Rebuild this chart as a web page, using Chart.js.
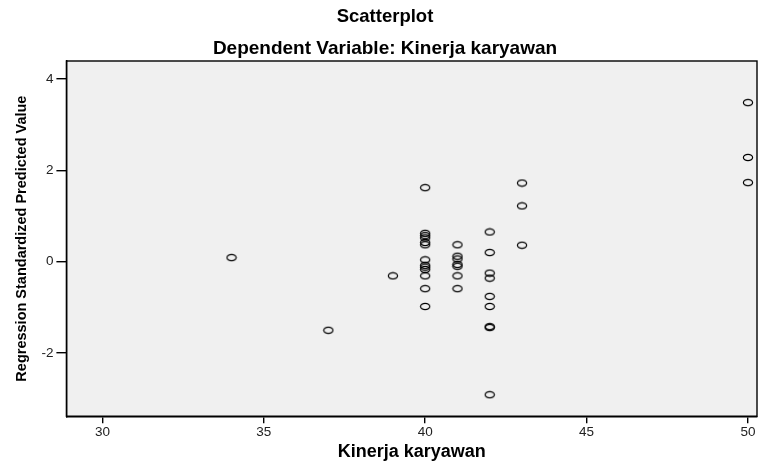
<!DOCTYPE html>
<html>
<head>
<meta charset="utf-8">
<script src="https://cdn.jsdelivr.net/npm/chart.js@4.4.1/dist/chart.umd.min.js"></script>
<style>
  html, body { margin: 0; padding: 0; background: #fff; }
  #wrap { width: 771px; height: 463px; }
</style>
</head>
<body>
<div id="wrap"><canvas id="scatterChart"></canvas></div>
<script>
const kinerja = [
  34, 37, 39,
  40, 40, 40, 40, 40, 40, 40, 40, 40, 40, 40, 40, 40,
  41, 41, 41, 41, 41, 41, 41,
  42, 42, 42, 42, 42, 42, 42, 42, 42,
  43, 43, 43,
  50, 50, 50
];
const predicted = [
  0.09, -1.50, -0.31,
  1.62, 0.62, 0.57, 0.52, 0.42, 0.37, 0.04, -0.08, -0.12, -0.17, -0.31, -0.59, -0.98,
  0.37, 0.12, 0.06, -0.06, -0.10, -0.31, -0.59,
  0.65, 0.20, -0.25, -0.36, -0.76, -0.98, -1.42, -1.44, -2.91,
  1.72, 1.22, 0.36,
  3.48, 2.28, 1.73
];
const xTickValues = [30, 35, 40, 45, 50];
const yTickValues = [-2, 0, 2, 4];

const points = kinerja.map((x, i) => ({ x: x, y: predicted[i] }));

// SPSS-style hollow ellipse marker
function makeMarker() {
  const c = document.createElement('canvas');
  c.width = 12;
  c.height = 9;
  const ctx = c.getContext('2d');
  ctx.strokeStyle = '#000';
  ctx.lineWidth = 1.2;
  ctx.beginPath();
  ctx.ellipse(6, 4.5, 4.6, 3.2, 0, 0, Math.PI * 2);
  ctx.stroke();
  return c;
}

// Grey plot area with a black frame
const plotFrame = {
  id: 'plotFrame',
  beforeDraw(chart) {
    const { ctx, chartArea: a } = chart;
    ctx.save();
    ctx.fillStyle = '#f0f0f0';
    ctx.fillRect(a.left, a.top, a.right - a.left, a.bottom - a.top);
    ctx.restore();
  },
  afterDatasetsDraw(chart) {
    const { ctx, chartArea: a } = chart;
    ctx.save();
    ctx.strokeStyle = '#000';
    ctx.lineWidth = 1.4;
    ctx.strokeRect(a.left, a.top, a.right - a.left, a.bottom - a.top);
    ctx.restore();
  }
};

const font = 'Liberation Sans, Arial, sans-serif';

new Chart(document.getElementById('scatterChart'), {
  type: 'scatter',
  data: {
    datasets: [{
      data: points,
      pointStyle: makeMarker(),
      pointRadius: 5,
      pointHoverRadius: 5
    }]
  },
  options: {
    responsive: true,
    maintainAspectRatio: false,
    animation: false,
    layout: { padding: { left: 13, right: 14, top: 0, bottom: 0 } },
    plugins: {
      legend: { display: false },
      tooltip: { enabled: false },
      title: {
        display: true,
        text: 'Scatterplot',
        color: '#000',
        font: { family: font, size: 18.5, weight: 'bold' },
        padding: { top: 6, bottom: 9 }
      },
      subtitle: {
        display: true,
        text: 'Dependent Variable: Kinerja karyawan',
        color: '#000',
        font: { family: font, size: 19, weight: 'bold' },
        padding: { top: 0, bottom: 1 }
      }
    },
    scales: {
      x: {
        type: 'linear',
        min: 28.885,
        max: 50.28,
        afterBuildTicks: axis => { axis.ticks = xTickValues.map(v => ({ value: v })); },
        grid: { drawOnChartArea: false, drawTicks: true, tickLength: 7, color: '#000', lineWidth: 1.4 },
        border: { display: true, color: '#000', width: 1.4 },
        ticks: { color: '#222', font: { family: font, size: 13.5 }, padding: 1, maxRotation: 0 },
        title: {
          display: true,
          text: 'Kinerja karyawan',
          color: '#000',
          font: { family: font, size: 18, weight: 'bold' },
          padding: { top: 0, bottom: 0 }
        }
      },
      y: {
        type: 'linear',
        min: -3.38,
        max: 4.39,
        afterBuildTicks: axis => { axis.ticks = yTickValues.map(v => ({ value: v })); },
        grid: { drawOnChartArea: false, drawTicks: true, tickLength: 10, color: '#000', lineWidth: 1.4 },
        border: { display: true, color: '#000', width: 1.4 },
        ticks: { color: '#222', font: { family: font, size: 13.5 }, padding: 3 },
        title: {
          display: true,
          text: 'Regression Standardized Predicted Value',
          color: '#000',
          font: { family: font, size: 14.5, weight: 'bold' },
          padding: { top: 0, bottom: 8 }
        }
      }
    }
  },
  plugins: [plotFrame]
});
</script>
</body>
</html>
